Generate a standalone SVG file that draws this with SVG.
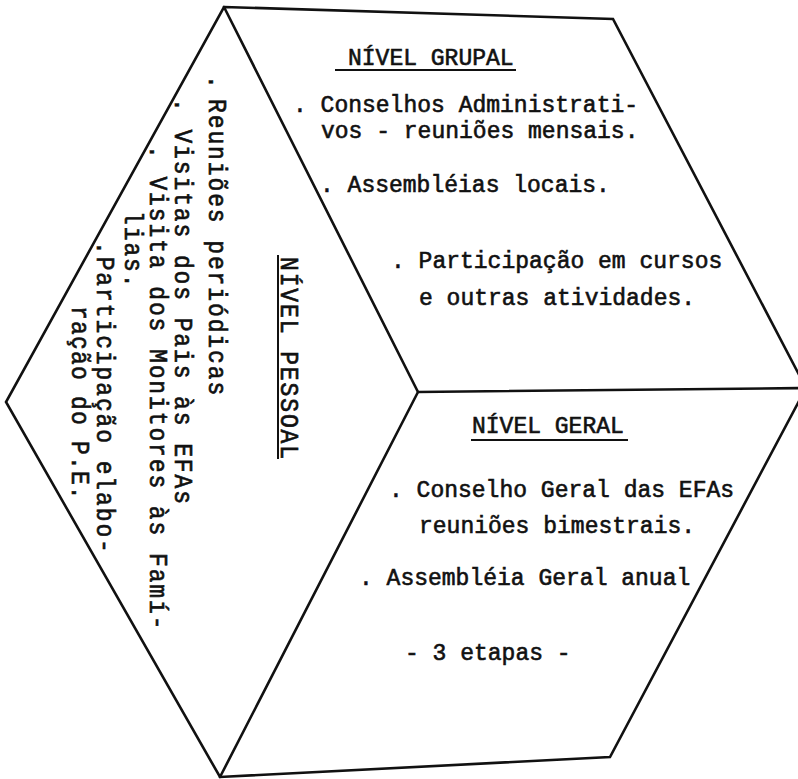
<svg xmlns="http://www.w3.org/2000/svg" width="798" height="779" viewBox="0 0 798 779">
<style>
.t{font-family:"Liberation Mono","DejaVu Sans Mono",monospace;font-size:23px;fill:#111;stroke:#111;stroke-width:0.6}
.v{letter-spacing:1.9px}
.e{fill:none;stroke:#111;stroke-width:2.6;stroke-linejoin:miter;stroke-linecap:round}
.u{stroke:#111;stroke-width:2}
</style>
<rect width="798" height="779" fill="#fff"/>
<g id="connectors">
<polygon class="e" points="224,7 613,19 806,388 610,757 220,777 6,402"/>
<polyline class="e" points="224,7 418,392 806,388"/>
<line class="e" x1="418" y1="392" x2="220" y2="777"/>
</g>
<g id="nivel-grupal">
<text class="t" x="348" y="65">NÍVEL GRUPAL</text>
<line class="u" x1="335" y1="70" x2="516" y2="70"/>
<text class="t" x="293" y="112">. Conselhos Administrati-</text>
<text class="t" x="321" y="138">vos - reuniões mensais.</text>
<text class="t" x="320" y="192">. Assembléias locais.</text>
<text class="t" x="391" y="268">. Participação em cursos</text>
<text class="t" x="419" y="305">e outras atividades.</text>
</g>
<g id="nivel-geral">
<text class="t" x="472" y="433">NÍVEL GERAL</text>
<line class="u" x1="471" y1="440" x2="628" y2="440"/>
<text class="t" x="389" y="497">. Conselho Geral das EFAs</text>
<text class="t" x="419" y="533">reuniões bimestrais.</text>
<text class="t" x="359" y="585">. Assembléia Geral anual</text>
<text class="t" x="405" y="660">- 3 etapas -</text>
</g>
<g id="nivel-pessoal">
<text class="t v" transform="translate(281,0) scale(1.1,1) rotate(90)" x="257">NÍVEL PESSOAL</text>
<line class="u" x1="278" y1="255" x2="278" y2="459"/>
<text class="t v" transform="translate(209,0) scale(1.1,1) rotate(90)"><tspan x="75">. </tspan><tspan x="99">Reuniões periódicas</tspan></text>
<text class="t v" transform="translate(175,0) scale(1.1,1) rotate(90)" x="98">. Visitas dos Pais às EFAs</text>
<text class="t v" transform="translate(150,0) scale(1.1,1) rotate(90)" x="145">. Visita dos Monitores às Famí-</text>
<text class="t v" transform="translate(125,0) scale(1.1,1) rotate(90)" x="211">lias.</text>
<text class="t v" transform="translate(97,0) scale(1.1,1) rotate(90)" x="241">.Participação elabo-</text>
<text class="t" style="letter-spacing:1.2px" transform="translate(72,0) scale(1.1,1) rotate(90)" x="306">ração do P.E.</text>
</g>
</svg>
